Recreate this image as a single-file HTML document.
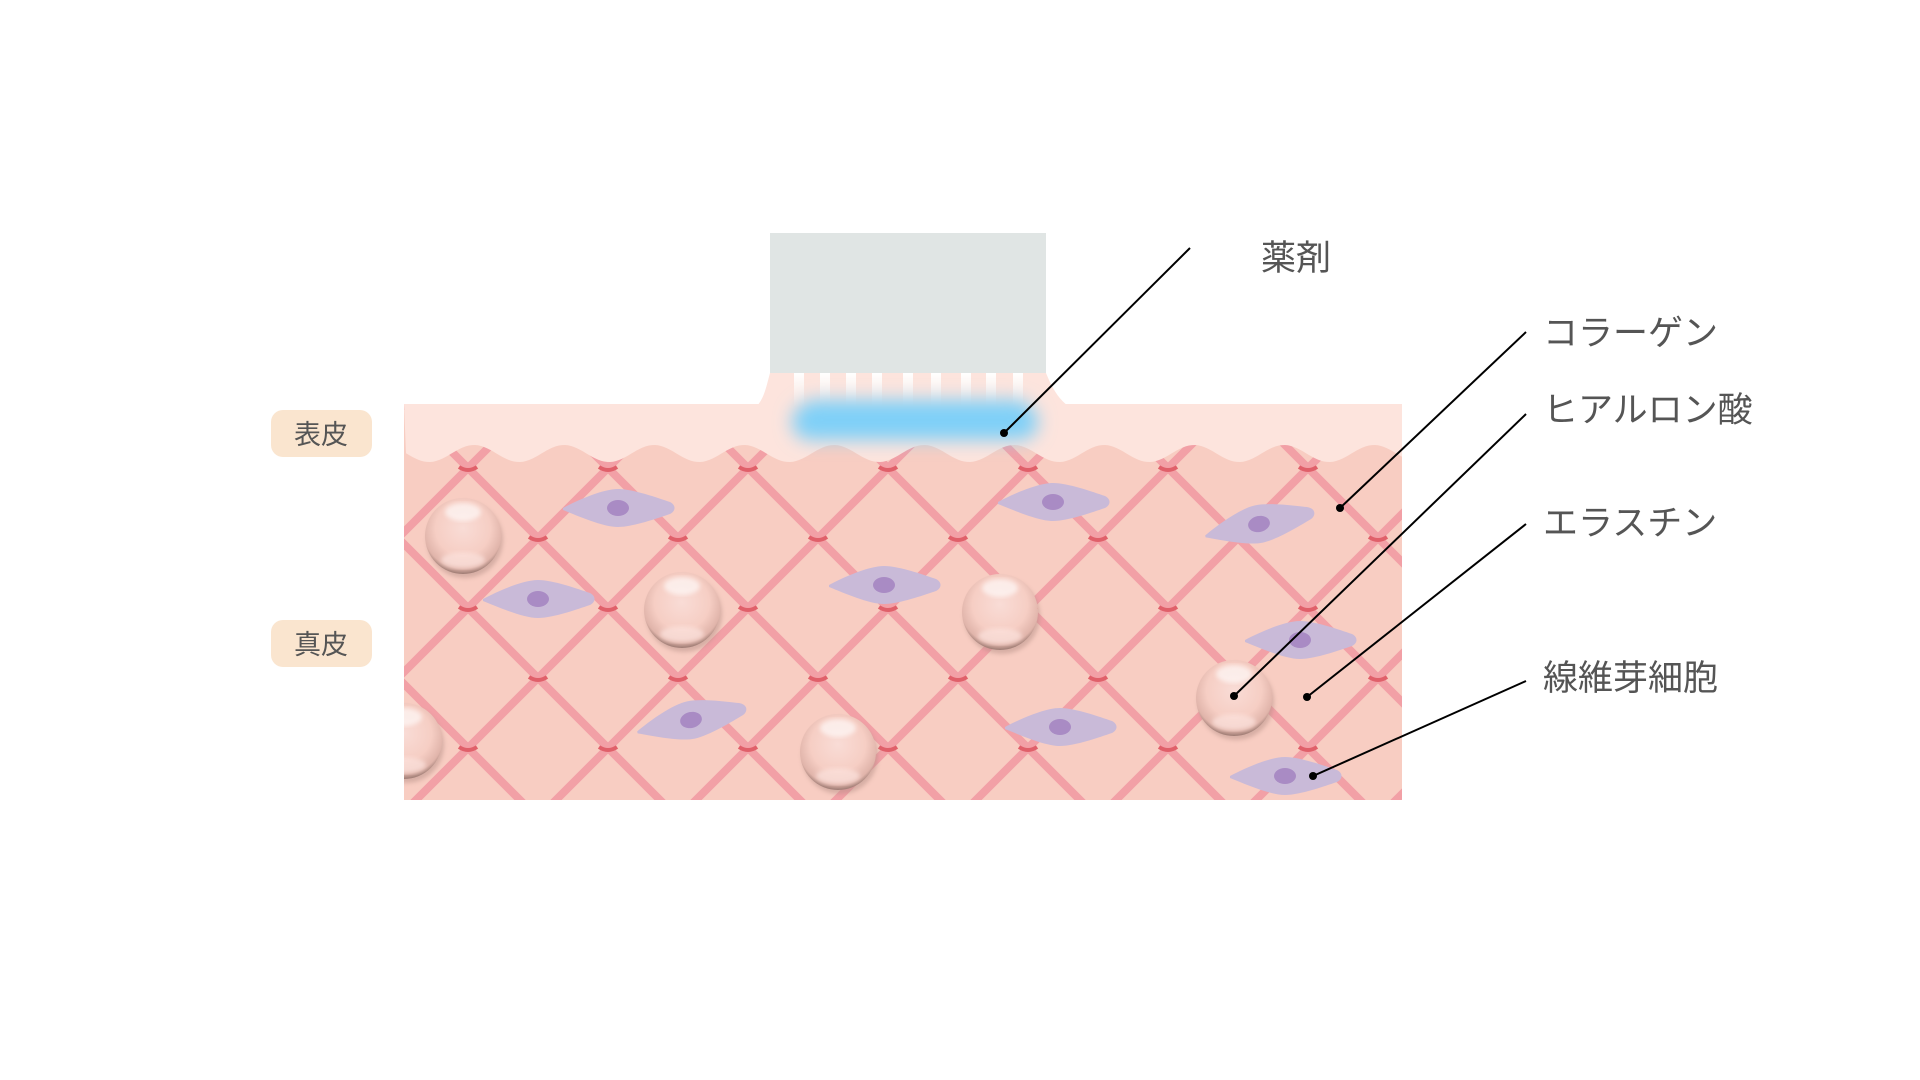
<!DOCTYPE html>
<html><head><meta charset="utf-8"><style>
html,body{margin:0;padding:0;background:#fff;}
svg{display:block}
text{font-family:"Liberation Sans","Noto Sans CJK JP",sans-serif;fill:#555;}
</style></head><body>
<svg id="s" width="1920" height="1080" viewBox="0 0 1920 1080" xmlns="http://www.w3.org/2000/svg">
<defs>
<clipPath id="skin"><rect x="404" y="404" width="998" height="396"/></clipPath>
<radialGradient id="sph" cx="0.5" cy="0.4" r="0.6">
<stop offset="0" stop-color="#f9dcd6"/><stop offset="0.6" stop-color="#f6cec4"/><stop offset="0.88" stop-color="#e0b4aa"/><stop offset="1" stop-color="#9c7a72"/>
</radialGradient>
<linearGradient id="gapg" x1="0" y1="0" x2="0" y2="1"><stop offset="0" stop-color="#fff"/><stop offset="1" stop-color="#fff" stop-opacity="0"/></linearGradient>
<filter id="blur" x="-20%" y="-100%" width="140%" height="300%"><feGaussianBlur stdDeviation="9"/></filter>
<filter id="sh"><feGaussianBlur stdDeviation="2"/></filter>
</defs>
<rect x="404" y="404" width="998" height="396" fill="#f8cdc2"/>
<g id="grid" clip-path="url(#skin)" stroke="#f2a0a6" stroke-width="8"></g>
<g id="marks" clip-path="url(#skin)" fill="none" stroke="#e0606a" stroke-width="4"></g>
<path id="epi" fill="#fde4dd"/>
<path d="M770,373 L1046,373 C1052,388 1058,398 1068,406 L757,406 C764,398 766,388 770,373 Z" fill="#fde4dd"/>
<g id="gaps"></g>
<g filter="url(#blur)" fill="#7fd0f8" id="blue">
<rect x="795" y="400" width="240" height="40" rx="20"/>
</g>
<rect x="770" y="233" width="276" height="140" fill="#e0e5e4"/>
<g id="cells" clip-path="url(#skin)"></g>
<g id="spheres" clip-path="url(#skin)"></g>
<rect x="271" y="410" width="101" height="47" rx="12" fill="#fae5cf"/>
<text x="321" y="444" font-size="27" text-anchor="middle">表皮</text>
<rect x="271" y="620" width="101" height="47" rx="12" fill="#fae5cf"/>
<text x="321" y="654" font-size="27" text-anchor="middle">真皮</text>
<g font-size="35">
<text x="1261" y="270">薬剤</text>
<text x="1543" y="345">コラーゲン</text>
<text x="1543" y="422">ヒアルロン酸</text>
<text x="1543" y="535">エラスチン</text>
<text x="1543" y="690">線維芽細胞</text>
</g>
<g stroke="#000" stroke-width="2" fill="none">
<line x1="1190" y1="248" x2="1004" y2="433"/>
<line x1="1526" y1="332" x2="1340" y2="508"/>
<line x1="1526" y1="414" x2="1234" y2="696"/>
<line x1="1526" y1="524" x2="1307" y2="697"/>
<line x1="1526" y1="681" x2="1313" y2="776"/>
</g>
<g fill="#000">
<circle cx="1004" cy="433" r="4"/><circle cx="1340" cy="508" r="4"/><circle cx="1234" cy="696" r="4"/><circle cx="1307" cy="697" r="4"/><circle cx="1313" cy="776" r="4"/>
</g>
</svg>
<script>
var NS="http://www.w3.org/2000/svg";
function el(t,a,p){var e=document.createElementNS(NS,t);for(var k in a)e.setAttribute(k,a[k]);document.getElementById(p).appendChild(e);return e;}
var P=140;
for(var k=-8;k<=12;k++){var c=P*k;
el('line',{x1:c+300,y1:300,x2:c+900,y2:900},'grid');
var d=936+P*k;
el('line',{x1:d-300,y1:300,x2:d-900,y2:900},'grid');}
for(var a=-8;a<=12;a++)for(var b=-8;b<=12;b++){var c=P*a,d=936+P*b;var x=(c+d)/2,y=(d-c)/2;
if(x>404&&x<1402&&y>455&&y<800){el('path',{d:'M'+(x-9)+','+(y-1)+' Q'+x+','+(y+5)+' '+(x+9)+','+(y-1)},'marks');}}
var pts=[];
for(var x=1402;x>=404;x-=3){var y=453.5-8.5*Math.cos(2*Math.PI*(x-474)/90);pts.push(x+','+y.toFixed(1));}
document.getElementById('epi').setAttribute('d','M404,404 L1402,404 L'+pts.join(' L')+' Z');
[794,820,846,872,903,931,961,986,1013].forEach(function(x){el('rect',{x:x,y:373,width:10,height:34,fill:'url(#gapg)'},'gaps');});
[810,840,870,900,930,960,990,1020].forEach(function(x){el('circle',{cx:x,cy:422,r:18},'blue');});
[[618,508,0],[538,599,0],[1053,502,0],[884,585,0],[1259,524,-12],[1300,640,0],[691,720,-12],[1060,727,0],[1285,776,0]].forEach(function(c){
var g=el('g',{transform:'translate('+c[0]+','+c[1]+') rotate('+c[2]+')'},'cells');
var p=document.createElementNS(NS,'path');p.setAttribute('d','M-55,0 C-40,-8 -15,-19 0,-19 C15,-19 40,-10 52,-6 C58,-3 58,3 52,6 C40,10 15,19 0,19 C-15,19 -40,8 -55,2 Z');p.setAttribute('fill','#c9bad8');g.appendChild(p);
var n=document.createElementNS(NS,'ellipse');n.setAttribute('cx',0);n.setAttribute('cy',0);n.setAttribute('rx',11);n.setAttribute('ry',8);n.setAttribute('fill','#a98bc4');g.appendChild(n);});
[[463,536],[682,610],[1000,612],[1234,698],[838,752],[404,741]].forEach(function(c){
el('circle',{cx:c[0]+2,cy:c[1]+4,r:38,fill:'#b58f86',opacity:0.5,filter:'url(#sh)'},'spheres');
el('circle',{cx:c[0],cy:c[1],r:38,fill:'url(#sph)'},'spheres');
el('ellipse',{cx:c[0],cy:c[1]-24,rx:18,ry:9,fill:'#fff',opacity:0.6,filter:'url(#sh)'},'spheres');
el('ellipse',{cx:c[0],cy:c[1]+24,rx:22,ry:8,fill:'#fbe0da',opacity:0.8,filter:'url(#sh)'},'spheres');});
</script>
</body></html>
